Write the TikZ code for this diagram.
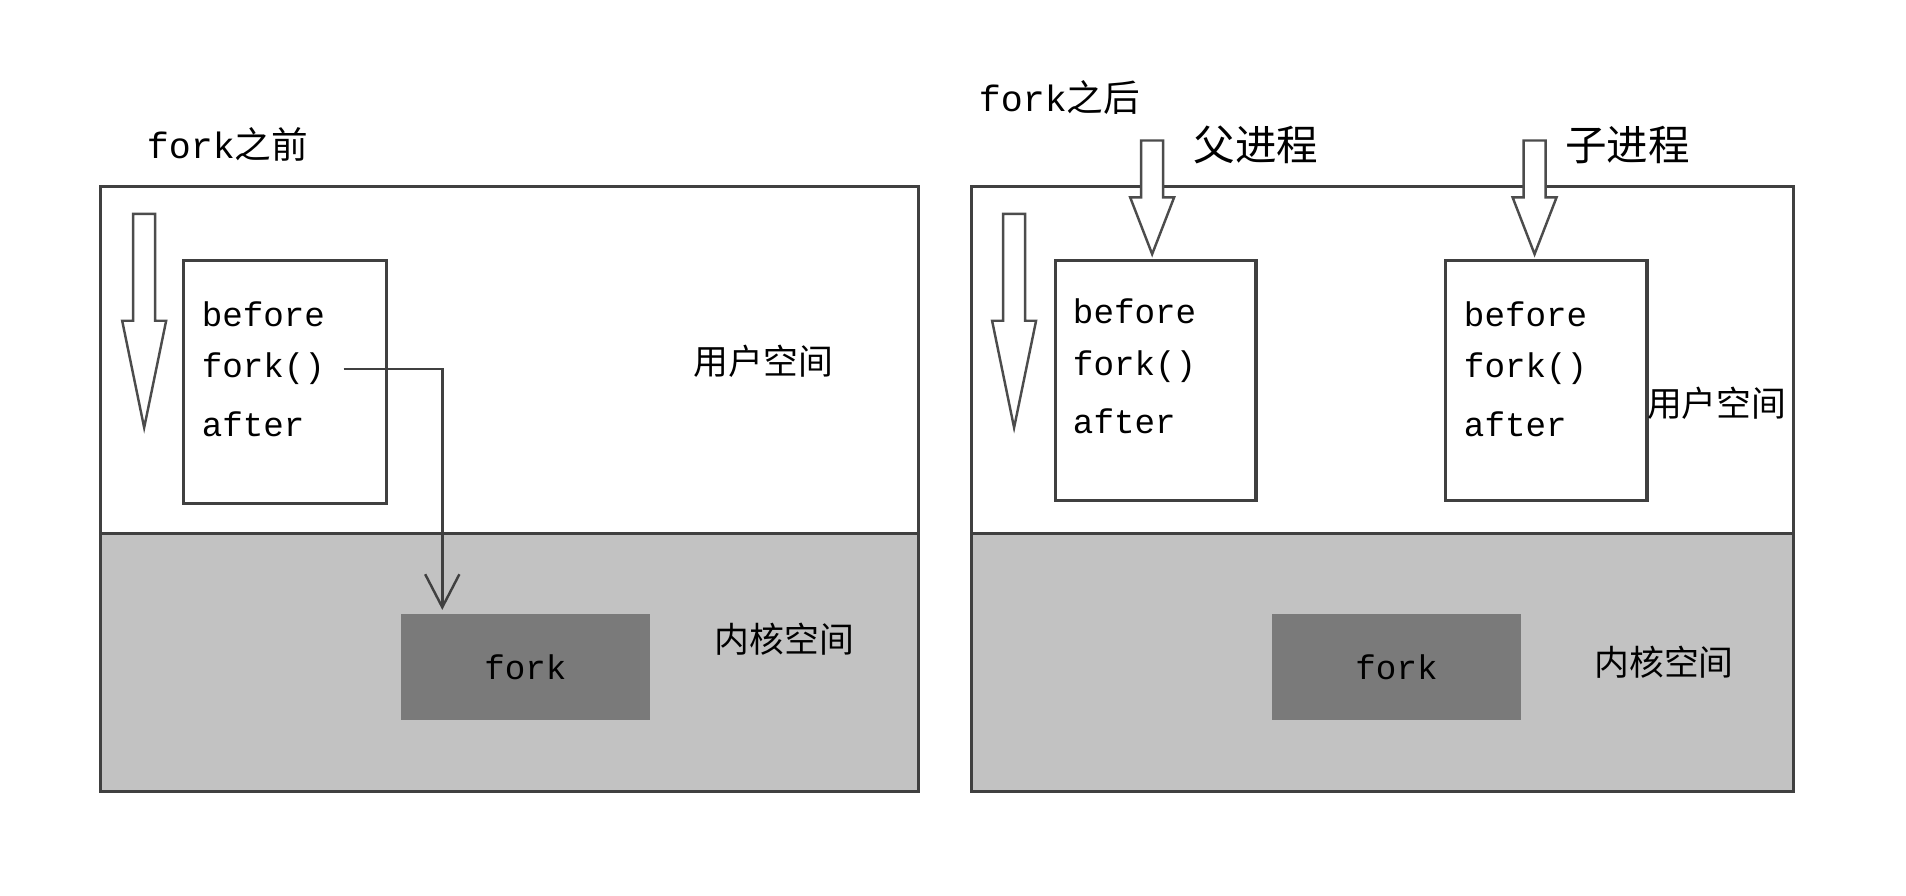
\documentclass[tikz,border=0pt]{standalone}
\usepackage{fontspec}
\setmonofont{Liberation Mono}
\newfontfamily\cjk{Noto Sans CJK SC}
\begin{document}
\begin{tikzpicture}[x=1pt,y=-1pt,
  panel/.style={draw=black!75,line width=2.5pt},
  code/.style={draw=black!75,line width=2.5pt,fill=white},
  kfork/.style={fill=black!52,draw=none},
  mono/.style={font=\fontsize{28}{30}\selectfont\ttfamily,anchor=west,inner sep=0},
  lbl/.style={font=\fontsize{28.5}{30}\selectfont\cjk,inner sep=0},
  plbl/.style={font=\fontsize{34}{36}\selectfont\cjk,inner sep=0},
  ttl/.style={font=\fontsize{30}{32}\selectfont\ttfamily,inner sep=0,anchor=west},
  harrow/.style={draw=black!70,line width=2pt,fill=white}]
\useasboundingbox (0,0) rectangle (1560,733);
\newcommand{\hollowdown}[3]{% x, ytop, ybottom
  \draw[harrow] ({#1-9},#2) -- ({#1+9},#2) -- ({#1+9},{#2+0.5*(#3-#2)}) -- ({#1+18},{#2+0.5*(#3-#2)}) -- (#1,#3) -- ({#1-18},{#2+0.5*(#3-#2)}) -- ({#1-9},{#2+0.5*(#3-#2)}) -- cycle;}
% left panel
\fill[black!24] (82,437) rectangle (752,648);
\draw[panel] (82,153) rectangle (752,648);
\draw[panel] (82,437) -- (752,437);
\node[ttl] (t1) at (120,118) {fork\cjk 之前};
\hollowdown{118}{175}{350}
\draw[code] (150,213) rectangle (316,412);
\node[mono] (b1) at (165,257) {before};
\node[mono] (f1) at (165,302) {fork()};
\node[mono] (a1) at (165,347) {after};
\node[kfork,minimum width=204pt,minimum height=87pt,font=\fontsize{28}{30}\selectfont\ttfamily] (k1) at (430,546) {fork};
\draw[black!75,line width=2pt] (f1.east)++(15,0) coordinate (c1) -- (362,302) -- (362,497);
\draw[black!75,line width=2pt] (348,470) -- (362,497) -- (376,470);
\node[lbl] (u1) at (625,296) {用户空间};
\node[lbl] (n1) at (642,523) {内核空间};
% right panel
\fill[black!24] (795,437) rectangle (1468,648);
\draw[panel] (795,153) rectangle (1468,648);
\draw[panel] (795,437) -- (1468,437);
\node[ttl] (t2) at (801,80) {fork\cjk 之后};
\hollowdown{830}{175}{350}
\draw[code] (864,213) rectangle (1028,410);
\draw[code] (1183,213) rectangle (1348,410);
\hollowdown{943}{115}{208}
\hollowdown{1256}{115}{208}
\node[plbl] (p) at (1028,119) {父进程};
\node[plbl] (c) at (1332,119) {子进程};
\node[mono] (b2) at (878,255) {before};
\node[mono] (f2) at (878,300) {fork()};
\node[mono] (a2) at (878,345) {after};
\node[mono] (b3) at (1198,257) {before};
\node[mono] (f3) at (1198,302) {fork()};
\node[mono] (a3) at (1198,347) {after};
\node[kfork,minimum width=204pt,minimum height=87pt,font=\fontsize{28}{30}\selectfont\ttfamily] (k2) at (1143,546) {fork};
\node[lbl] (u2) at (1405,330) {用户空间};
\node[lbl] (n2) at (1362,542) {内核空间};
\end{tikzpicture}
\end{document}
